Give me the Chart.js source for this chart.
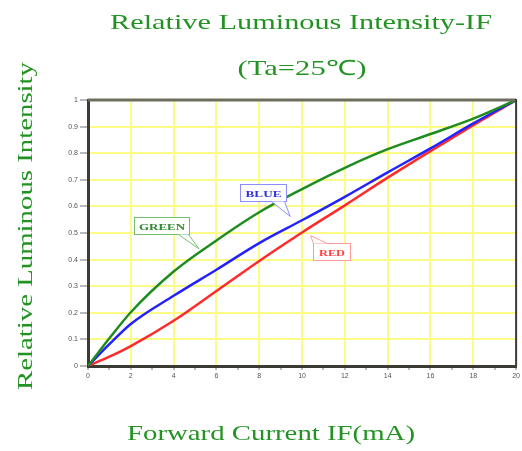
<!DOCTYPE html>
<html>
<head>
<meta charset="utf-8">
<script src="https://cdn.jsdelivr.net/npm/chart.js@4.4.1/dist/chart.umd.min.js"></script>
<style>
  html, body { margin: 0; padding: 0; background: #fff; }
  #wrap { width: 522px; height: 451px; }
</style>
</head>
<body>
<div id="wrap"><canvas id="chart" width="522" height="451"></canvas></div>
<script>
// forward current (mA) and relative luminous intensity
const currentMA = [0, 1, 2, 4, 6, 8, 10, 12, 14, 16, 18, 20];
const greenIv = [0, 0.104, 0.202, 0.355, 0.472, 0.578, 0.665, 0.745, 0.815, 0.872, 0.93, 1];
const blueIv = [0, 0.082, 0.158, 0.264, 0.362, 0.462, 0.548, 0.636, 0.728, 0.818, 0.912, 1];
const redIv = [0, 0.035, 0.075, 0.17, 0.282, 0.395, 0.502, 0.604, 0.708, 0.808, 0.905, 1];

const xTicks = [0, 1, 2, 3, 4, 5, 6, 7, 8, 9, 10, 11, 12, 13, 14, 15, 16, 17, 18, 19, 20];
const yTicks = [0, 0.1, 0.2, 0.3, 0.4, 0.5, 0.6, 0.7, 0.8, 0.9, 1];
const yTickLabels = ['0', '0.1', '0.2', '0.3', '0.4', '0.5', '0.6', '0.7', '0.8', '0.9', '1'];

const titleText = 'Relative Luminous Intensity-IF';
const subTitleText = '(Ta=25\u2103)';
const xTitleText = 'Forward Current IF(mA)';
const yTitleText = 'Relative Luminous Intensity';

const titleGreen = '#229322';
const gridYellow = '#fbfb86';

// callout labels, anchored in data units
const callouts = [
  { text: 'GREEN', x: 3.43, y: 0.53, tipX: 5.19, tipY: 0.44, w: 55, h: 17, textW: 46,
    tail: 'bottom', base: [44, 54], color: '#2e8b2e', edge: '#72bf72' },
  { text: 'BLUE', x: 8.19, y: 0.654, tipX: 9.45, tipY: 0.562, w: 46, h: 17, textW: 36,
    tail: 'bottom', base: [31, 44], color: '#3030e0', edge: '#8c8cff' },
  { text: 'RED', x: 11.36, y: 0.431, tipX: 10.4, tipY: 0.49, w: 37, h: 17, textW: 26,
    tail: 'top', base: [0, 14], color: '#ff4040', edge: '#ff9a9a' }
];

function fitText(ctx, text, x, y, width, font, color, rotate) {
  ctx.save();
  ctx.font = font;
  ctx.fillStyle = color;
  ctx.textAlign = 'center';
  ctx.textBaseline = 'alphabetic';
  ctx.translate(x, y);
  if (rotate) ctx.rotate(-Math.PI / 2);
  const w = ctx.measureText(text).width;
  ctx.scale(width / w, 1);
  ctx.fillText(text, 0, 0);
  ctx.restore();
}

function drawCallout(ctx, c, xs, ys) {
  const cx = xs.getPixelForValue(c.x);
  const cy = ys.getPixelForValue(c.y);
  const tx = xs.getPixelForValue(c.tipX);
  const ty = ys.getPixelForValue(c.tipY);
  const l = Math.round(cx - c.w / 2) + 0.5;
  const t = Math.round(cy - c.h / 2) + 0.5;
  const edgeY = c.tail === 'bottom' ? t + c.h : t;

  ctx.save();
  ctx.lineWidth = 1;
  ctx.strokeStyle = c.edge;
  ctx.fillStyle = '#fff';
  ctx.fillRect(l, t, c.w, c.h);
  ctx.strokeRect(l, t, c.w, c.h);

  // speech-bubble tail
  ctx.beginPath();
  ctx.moveTo(l + c.base[0], edgeY);
  ctx.lineTo(tx, ty);
  ctx.lineTo(l + c.base[1], edgeY);
  ctx.closePath();
  ctx.fill();
  ctx.beginPath();
  ctx.moveTo(l + c.base[0], edgeY);
  ctx.lineTo(tx, ty);
  ctx.lineTo(l + c.base[1], edgeY);
  ctx.stroke();
  ctx.restore();

  fitText(ctx, c.text, l + c.w / 2, t + c.h / 2 + 3.5, c.textW,
    'bold 9px "Liberation Serif", serif', c.color, false);
}

const decorPlugin = {
  id: 'decor',
  afterDatasetsDraw(chart) {
    const { ctx, chartArea: a, scales } = chart;
    ctx.save();
    // top and right edges of the frame
    ctx.strokeStyle = '#6e6e5e';
    ctx.lineWidth = 3;
    ctx.beginPath();
    ctx.moveTo(a.left, a.top);
    ctx.lineTo(a.right, a.top);
    ctx.stroke();
    ctx.strokeStyle = '#3a3a3a';
    ctx.lineWidth = 2;
    ctx.beginPath();
    ctx.moveTo(a.right, a.top - 1);
    ctx.lineTo(a.right, a.bottom);
    ctx.stroke();
    ctx.restore();

    callouts.forEach((c) => drawCallout(ctx, c, scales.x, scales.y));
  },
  afterDraw(chart) {
    const ctx = chart.ctx;
    const font = '21px "Liberation Serif", serif';
    fitText(ctx, titleText, 301, 29, 382, font, titleGreen, false);
    fitText(ctx, subTitleText, 302, 75, 129, font, titleGreen, false);
    fitText(ctx, xTitleText, 271, 440, 288, font, titleGreen, false);
    fitText(ctx, yTitleText, 32, 226, 328, font, titleGreen, true);
  }
};

const lineStyle = {
  borderWidth: 2.5,
  pointRadius: 0,
  fill: false,
  cubicInterpolationMode: 'monotone'
};

new Chart(document.getElementById('chart'), {
  type: 'line',
  data: {
    datasets: [
      { ...lineStyle, label: 'GREEN', borderColor: '#1e8c1e',
        data: currentMA.map((x, i) => ({ x, y: greenIv[i] })) },
      { ...lineStyle, label: 'BLUE', borderColor: '#2222ff',
        data: currentMA.map((x, i) => ({ x, y: blueIv[i] })) },
      { ...lineStyle, label: 'RED', borderColor: '#ff2a2a',
        data: currentMA.map((x, i) => ({ x, y: redIv[i] })) }
    ]
  },
  options: {
    responsive: false,
    animation: false,
    devicePixelRatio: 1,
    layout: { padding: { top: 100, right: 5, bottom: 0, left: 0 } },
    plugins: { legend: { display: false }, title: { display: false }, tooltip: { enabled: false } },
    scales: {
      x: {
        type: 'linear',
        min: 0,
        max: 20,
        afterFit: (s) => { s.height = 85; },
        afterBuildTicks: (s) => { s.ticks = xTicks.map((v) => ({ value: v })); },
        ticks: {
          autoSkip: false,
          maxRotation: 0,
          padding: 2,
          color: '#555',
          font: { family: 'Liberation Sans, Arial, sans-serif', size: 7 },
          callback: (v) => (v % 2 === 0 ? String(v) : '')
        },
        grid: {
          color: (c) => (c.tick && c.tick.value % 2 === 0 ? gridYellow : 'rgba(0,0,0,0)'),
          lineWidth: 2,
          tickColor: '#777',
          tickLength: 4,
          tickWidth: 1
        },
        border: { color: '#3b3b33', width: 3 }
      },
      y: {
        type: 'linear',
        min: 0,
        max: 1,
        afterFit: (s) => { s.width = 88; },
        afterBuildTicks: (s) => { s.ticks = yTicks.map((v) => ({ value: v })); },
        ticks: {
          autoSkip: false,
          padding: 2,
          color: '#555',
          font: { family: 'Liberation Sans, Arial, sans-serif', size: 7 },
          callback: (v, i) => yTickLabels[i]
        },
        grid: {
          color: gridYellow,
          lineWidth: 2,
          tickColor: '#777',
          tickLength: 8,
          tickWidth: 1
        },
        border: { color: '#3b3b33', width: 3 }
      }
    }
  },
  plugins: [decorPlugin]
});
</script>
</body>
</html>
